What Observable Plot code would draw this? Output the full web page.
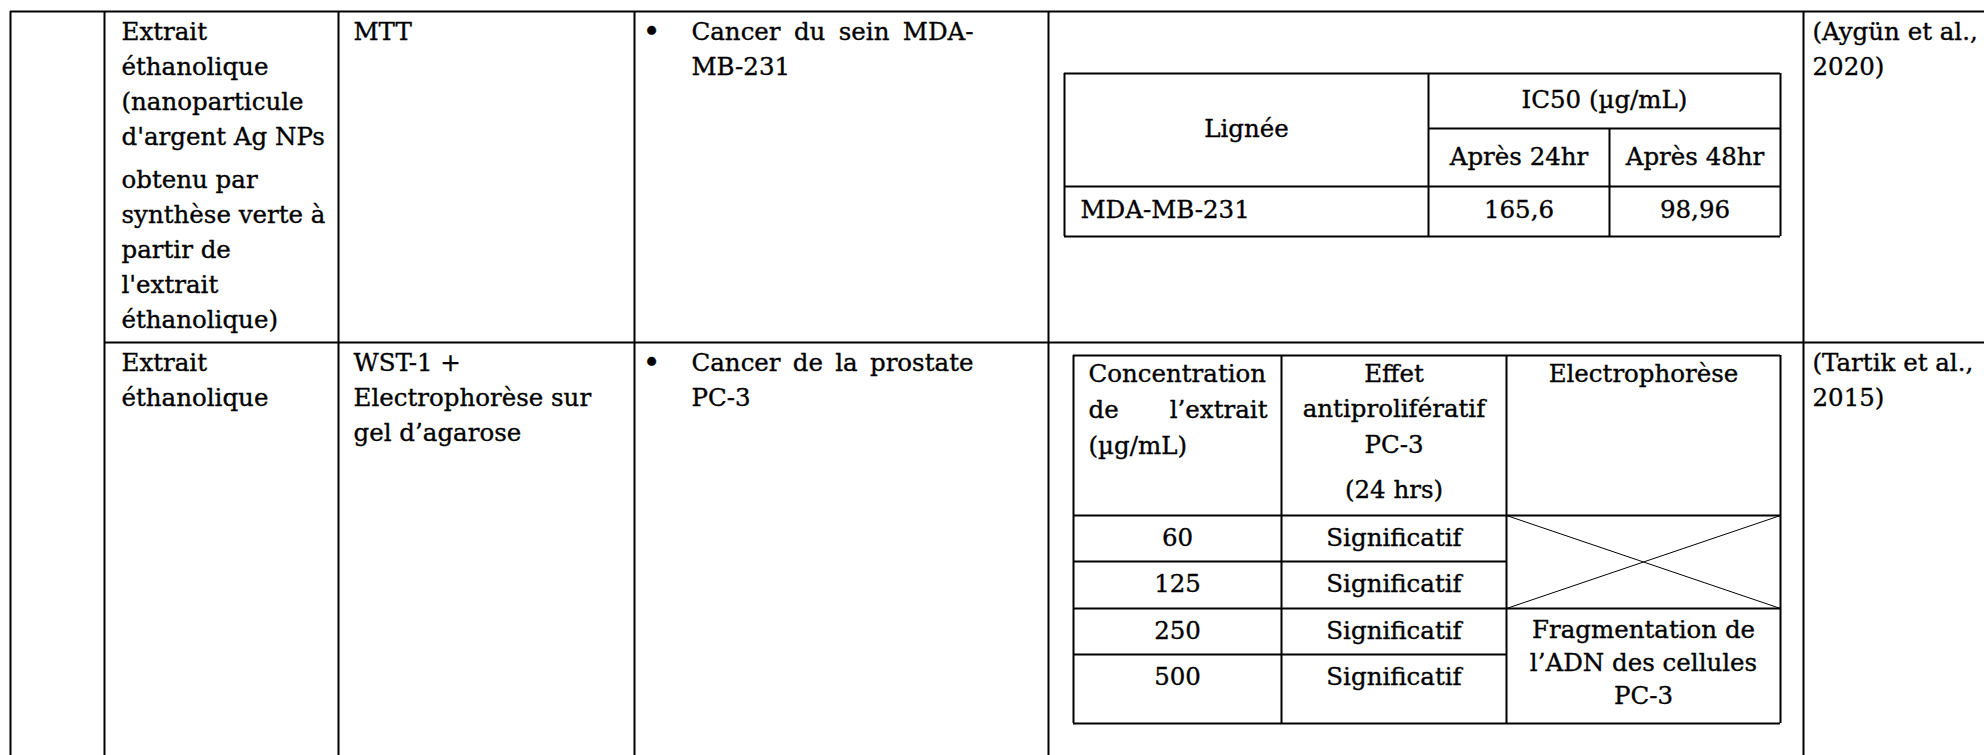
<!DOCTYPE html>
<html><head><meta charset="utf-8">
<script src="https://cdn.jsdelivr.net/npm/d3@7"></script>
<script src="https://cdn.jsdelivr.net/npm/@observablehq/plot@0.6"></script>
<style>html,body{margin:0;padding:0;background:#fff;} svg{display:block;}</style>
</head><body>
<script>
// ================= DATA =================
const extraits = [
  [["Extrait", "éthanolique", "(nanoparticule", "d'argent Ag NPs"],
   ["obtenu par", "synthèse verte à", "partir de", "l'extrait", "éthanolique)"]],
  [["Extrait", "éthanolique"]]
];
const methodes = [["MTT"], ["WST-1 +", "Electrophorèse sur", "gel d’agarose"]];
const lignees = [["Cancer du sein MDA-", "MB-231"], ["Cancer de la prostate", "PC-3"]];
const references = [["(Aygün et al.,", "2020)"], ["(Tartik et al.,", "2015)"]];

// inner table 1 (IC50)
const ic50Head = ["Lignée", "IC50 (µg/mL)"];
const ic50Times = ["Après 24hr", "Après 48hr"];
const ic50Lines = ["MDA-MB-231"];
const ic50Values = [[165.6, 98.96]];

// inner table 2 (PC-3)
const concHead = ["Concentration", "de l’extrait", "(µg/mL)"];
const effetHead = [["Effet", "antiprolifératif", "PC-3"], ["(24 hrs)"]];
const electroHead = ["Electrophorèse"];
const concentrations = [60, 125, 250, 500];
const effets = ["Significatif", "Significatif", "Significatif", "Significatif"];
const electroCrossed = [60, 125];
const electroFragment = [250, 500];
const electroResult = ["Fragmentation de", "l’ADN des cellules", "PC-3"];

// ================= LAYOUT =================
const W = 1984, H = 755;
const FONT = "DejaVu Serif", FS = 24.5, LH = 35;
const COLS = [10, 104, 338, 634, 1048, 1803];
const ROWS = [11, 342, H];
const T1x = [1064, 1428, 1609, 1780], T1y = [73, 128, 186, 236];
const T2x = [1073, 1281, 1506, 1780], T2y = [355, 515, 561, 608, 654, 723];
const fmt = v => String(v).replace(".", ",");
const mid = (a, b) => (a + b) / 2;

const txt = [];
const bullets = [];
const put = (x, y, text, anchor = "start") => txt.push({x, y, text, anchor});

for (let r = 0; r < 2; ++r) {
  const base = ROWS[r] + 28.5;
  let i = 0;
  extraits[r].forEach((para, p) => para.forEach(line => { put(COLS[1] + 17, base + i * LH + p * 8, line); i++; }));
  methodes[r].forEach((line, k) => put(COLS[2] + 15, base + k * LH, line));
  bullets.push({x: COLS[3] + 17, y: base, text: "•"});
  lignees[r].forEach((line, k) => put(COLS[3] + 57, base + k * LH, line));
  references[r].forEach((line, k) => put(COLS[5] + 9, base + k * LH, line));
}

// table 1 text
put(mid(T1x[0], T1x[1]), 136, ic50Head[0], "middle");
put(mid(T1x[1], T1x[3]), T1y[0] + 34, ic50Head[1], "middle");
ic50Times.forEach((t, k) => put(mid(T1x[k + 1], T1x[k + 2]), T1y[1] + 36, t, "middle"));
ic50Lines.forEach((l, j) => {
  put(T1x[0] + 16, T1y[2] + 31, l);
  ic50Values[j].forEach((v, k) => put(mid(T1x[k + 1], T1x[k + 2]), T1y[2] + 31, fmt(v), "middle"));
});

// table 2 text
const hb = T2y[0] + 26;
concHead.forEach((l, k) => put(T2x[0] + 15, hb + k * 36, l));
{ let i = 0; effetHead.forEach((para, p) => para.forEach(l => { put(mid(T2x[1], T2x[2]), hb + i * 35.5 + p * 10, l, "middle"); i++; })); }
electroHead.forEach((l, k) => put(mid(T2x[2], T2x[3]), hb + k * 35.5, l, "middle"));
concentrations.forEach((c, k) => {
  put(mid(T2x[0], T2x[1]), T2y[k + 1] + 30, String(c), "middle");
  put(mid(T2x[1], T2x[2]), T2y[k + 1] + 30, effets[k], "middle");
});
const fragTop = T2y[1 + concentrations.indexOf(electroFragment[0])];
electroResult.forEach((l, k) => put(mid(T2x[2], T2x[3]), fragTop + 29 + k * 33, l, "middle"));

// lines
const hLines = [
  {y: ROWS[0], x1: COLS[0], x2: W},
  {y: ROWS[1], x1: COLS[1], x2: W},
  {y: T1y[0], x1: T1x[0], x2: T1x[3]},
  {y: T1y[1], x1: T1x[1], x2: T1x[3]},
  {y: T1y[2], x1: T1x[0], x2: T1x[3]},
  {y: T1y[3], x1: T1x[0], x2: T1x[3]},
  {y: T2y[0], x1: T2x[0], x2: T2x[3]},
  {y: T2y[1], x1: T2x[0], x2: T2x[3]},
  {y: T2y[2], x1: T2x[0], x2: T2x[2]},
  {y: T2y[3], x1: T2x[0], x2: T2x[3]},
  {y: T2y[4], x1: T2x[0], x2: T2x[2]},
  {y: T2y[5], x1: T2x[0], x2: T2x[3]}
];
const vLines = [
  ...COLS.map(x => ({x, y1: ROWS[0], y2: H})),
  {x: T1x[0], y1: T1y[0], y2: T1y[3]},
  {x: T1x[1], y1: T1y[0], y2: T1y[3]},
  {x: T1x[2], y1: T1y[1], y2: T1y[3]},
  {x: T1x[3], y1: T1y[0], y2: T1y[3]},
  ...T2x.map(x => ({x, y1: T2y[0], y2: T2y[5]}))
];
const crossTop = T2y[1 + concentrations.indexOf(electroCrossed[0])];
const crossBot = T2y[2 + concentrations.indexOf(electroCrossed[electroCrossed.length - 1])];
const diag = [
  {x1: T2x[2], y1: crossTop, x2: T2x[3], y2: crossBot},
  {x1: T2x[2], y1: crossBot, x2: T2x[3], y2: crossTop}
];

const textOpts = {x: "x", y: "y", text: "text", lineAnchor: "bottom", fontFamily: FONT, fontSize: FS,
  fill: "black", stroke: "black", strokeWidth: 0.35};

const chart = Plot.plot({
  width: W, height: H,
  margin: 0, marginTop: 0, marginRight: 0, marginBottom: 0, marginLeft: 0,
  x: {domain: [0, W], range: [0, W], axis: null},
  y: {domain: [0, H], range: [0, H], axis: null},
  style: {background: "white"},
  marks: [
    Plot.ruleY(hLines, {y: "y", x1: "x1", x2: "x2", stroke: "black", strokeWidth: 2}),
    Plot.ruleX(vLines, {x: "x", y1: "y1", y2: "y2", stroke: "black", strokeWidth: 2}),
    Plot.link(diag, {x1: "x1", y1: "y1", x2: "x2", y2: "y2", stroke: "black", strokeWidth: 1}),
    Plot.text(txt.filter(d => d.anchor === "start"), {...textOpts, textAnchor: "start"}),
    Plot.text(txt.filter(d => d.anchor === "middle"), {...textOpts, textAnchor: "middle"}),
    Plot.text(bullets, {...textOpts, fontSize: 30, textAnchor: "middle", dy: 2})
  ]
});
document.body.appendChild(chart);

// justified lines (as in the source document)
const justify = new Map([
  ["Cancer du sein MDA-", 282],
  ["Cancer de la prostate", 282],
  ["de l’extrait", 179]
]);
chart.querySelectorAll("text").forEach(el => {
  const t = el.textContent;
  if (justify.has(t) && el.getComputedTextLength) {
    const spaces = (t.match(/ /g) || []).length;
    const extra = (justify.get(t) - el.getComputedTextLength()) / spaces;
    el.style.wordSpacing = extra + "px";
  }
});
</script>
</body></html>
